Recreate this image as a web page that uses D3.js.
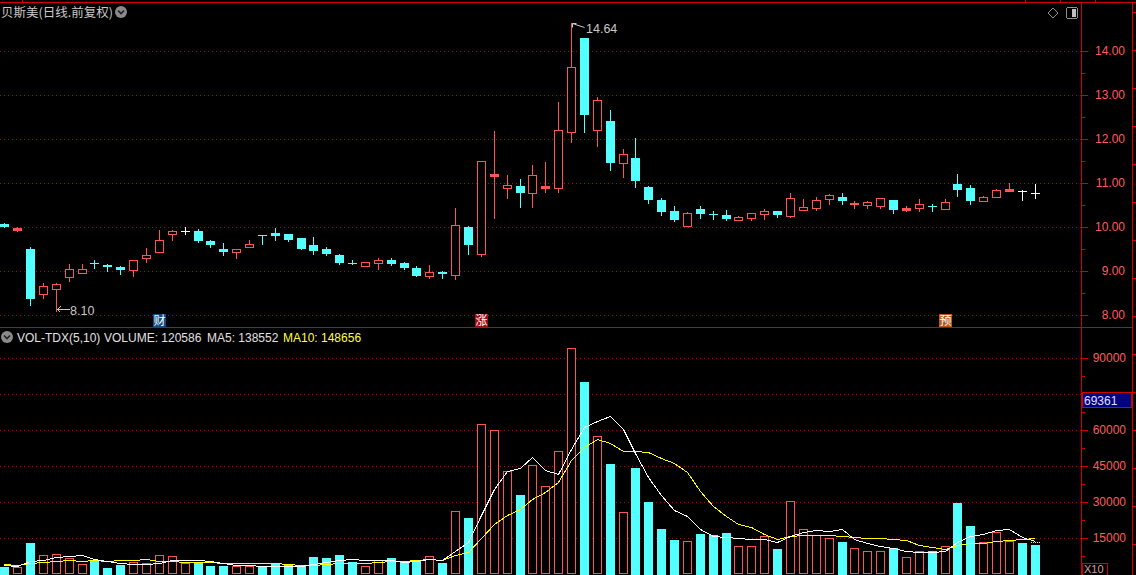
<!DOCTYPE html>
<html><head><meta charset="utf-8">
<script src="https://cdnjs.cloudflare.com/ajax/libs/d3/7.8.5/d3.min.js"></script>
<style>html,body{margin:0;padding:0;background:#000;overflow:hidden}svg{display:block}</style>
</head><body><svg id="c" width="1136" height="575"></svg>
<script>
// ---------- data ----------
const openP  = [10.06,9.94,9.50,8.48,8.60,8.86,8.96,9.18,9.14,9.08,9.03,9.30,9.44,9.85,9.91,9.91,9.68,9.50,9.43,9.54,
                9.82,9.86,9.84,9.75,9.59,9.50,9.36,9.19,9.12,9.19,9.25,9.18,9.07,8.89,8.98,8.92,10.00,9.39,11.17,10.88,
                10.93,10.77,10.88,10.88,12.15,14.30,12.20,12.41,11.45,11.57,10.91,10.61,10.36,10.03,10.41,10.29,10.27,10.15,10.21,10.30,
                10.36,10.26,10.39,10.44,10.64,10.68,10.52,10.51,10.48,10.61,10.39,10.44,10.47,10.42,10.98,10.89,10.60,10.69,10.82,10.81,10.77];
const highP  = [10.10,10.00,9.54,8.73,8.73,9.16,9.15,9.24,9.16,9.11,9.25,9.52,9.93,9.93,9.99,9.95,9.70,9.64,9.50,9.70,
                9.82,9.98,9.84,9.75,9.77,9.55,9.39,9.25,9.20,9.30,9.30,9.20,9.11,9.14,9.00,10.43,10.02,11.51,12.18,11.18,
                11.09,11.41,11.48,12.84,14.64,14.30,12.95,12.66,11.77,12.02,10.93,10.65,10.48,10.33,10.48,10.36,10.39,10.26,10.31,10.41,
                10.36,10.77,10.64,10.68,10.75,10.77,10.58,10.60,10.66,10.61,10.48,10.64,10.53,10.64,11.20,10.95,10.70,10.86,11.00,10.84,10.98];
const lowP   = [9.99,9.92,8.23,8.39,8.10,8.78,8.96,9.07,9.00,8.94,8.89,9.20,9.44,9.71,9.83,9.66,9.55,9.37,9.30,9.54,
                9.62,9.71,9.69,9.50,9.39,9.36,9.16,9.17,9.12,9.05,9.14,9.05,8.89,8.84,8.84,8.82,9.39,9.33,10.21,10.67,
                10.46,10.46,10.80,10.80,11.93,12.17,11.85,11.30,11.14,10.90,10.55,10.28,10.14,10.03,10.21,10.19,10.17,10.15,10.17,10.19,
                10.23,10.23,10.39,10.39,10.53,10.53,10.44,10.44,10.44,10.32,10.37,10.37,10.37,10.42,10.71,10.53,10.60,10.69,10.82,10.62,10.67];
const closeP = [9.99,9.98,8.36,8.66,8.70,9.04,9.04,9.16,9.10,9.03,9.25,9.36,9.70,9.91,9.91,9.69,9.58,9.44,9.50,9.61,
                9.81,9.80,9.71,9.50,9.45,9.39,9.18,9.17,9.20,9.25,9.16,9.07,8.89,8.98,8.94,10.05,9.60,11.51,11.20,10.95,
                10.78,11.18,10.93,12.20,13.63,12.55,12.88,11.46,11.67,11.05,10.62,10.34,10.17,10.31,10.30,10.28,10.19,10.22,10.31,10.36,
                10.28,10.65,10.45,10.61,10.72,10.58,10.54,10.56,10.66,10.39,10.43,10.52,10.46,10.57,10.84,10.60,10.68,10.84,10.86,10.81,10.77];
// volume in axis units (x10 shares)
const volume = [2900,2800,12900,7800,8200,6500,4000,5700,2500,3750,4850,4450,7800,7350,4450,4600,3300,3300,3300,3300,
                2900,4000,3600,3900,7100,6700,7900,5000,3300,5800,6700,5000,5800,7350,4600,26100,23300,62400,59900,42800,
                32900,45300,36500,51100,94000,80000,57400,45800,25700,44200,30000,18750,14200,13600,16700,16250,17100,11500,11500,15700,
                10400,30300,18600,16100,14900,13300,10700,9600,9600,10800,6950,9450,9450,11500,29600,20000,13200,17400,13750,12900,12058.6];
// sessions before the visible window (estimated from where the MA lines start)
const priorVolume = [4700,4600,4700,4700,2250,5500,2800,5100,2750];
const projectedVolume = 13200;
const priceTicks = [8,9,10,11,12,13,14];
const priceMinor = [8.5,9.5,10.5,11.5,12.5,13.5];
const volTicks = [15000,30000,45000,60000,75000,90000];
const volLabels = [15000,30000,45000,60000,90000];
const volMinor = [7500,22500,37500,52500,67500,82500];
const markers = [{i:12,t:"财",c:"#0f4a86"},{i:37,t:"涨",c:"#9a1010"},{i:73,t:"预",c:"#b8561c"}];
const title = "贝斯美(日线.前复权)";
const hiLabel = "14.64", loLabel = "8.10";
const headerMA5 = "MA5: 138552", headerMA10 = "MA10: 148656", cursorValue = "69361";

// ---------- drawing ----------
const RED = "#ff5454", CYAN = "#54ffff", AX = "#d00000", GRID = "#b00000", LBL = "#ff5c5c", TXT = "#c8c8c8";
const FONT = "Liberation Sans, Arial";
const svg = d3.select("#c").attr("shape-rendering","crispEdges");
svg.append("rect").attr("width",1136).attr("height",575).attr("fill","#000");

const n = closeP.length;
const x = d3.scaleBand().domain(d3.range(n)).range([-2.14, 1041.14]);
const cx = i => Math.round(x(i) + x.bandwidth()/2);
const yP = d3.scaleLinear().domain([8,15]).range([315,7]);
const yV = d3.scaleLinear().domain([0,90000]).range([574,358]);
const PX = 1081, PR = 1132.5;

// frame
svg.append("line").attr("x1",0).attr("x2",1136).attr("y1",2.5).attr("y2",2.5).attr("stroke",AX);
[22,1025,1060,1095].forEach(t=>svg.append("line").attr("x1",t+.5).attr("x2",t+.5).attr("y1",0).attr("y2",2).attr("stroke",AX));
svg.append("line").attr("x1",0).attr("x2",PR).attr("y1",327.5).attr("y2",327.5).attr("stroke",AX);
svg.append("line").attr("x1",PX+.5).attr("x2",PX+.5).attr("y1",2).attr("y2",575).attr("stroke",AX);
svg.append("line").attr("x1",PR).attr("x2",PR).attr("y1",2).attr("y2",575).attr("stroke",AX);
d3.range(12,575,38).forEach(t=>svg.append("line").attr("x1",PR).attr("x2",1136).attr("y1",t+.5).attr("y2",t+.5).attr("stroke",AX));

// grid
const grid = svg.append("g").attr("stroke",GRID).attr("stroke-dasharray","1,3");
priceTicks.forEach(t=>grid.append("line").attr("x1",0).attr("x2",PX).attr("y1",Math.round(yP(t))+.5).attr("y2",Math.round(yP(t))+.5));
volTicks.forEach(t=>grid.append("line").attr("x1",0).attr("x2",PX).attr("y1",Math.round(yV(t))+.5).attr("y2",Math.round(yV(t))+.5));

// price axis
const pAxis = d3.axisRight(yP).tickValues(priceTicks).tickSize(7).tickPadding(37).tickFormat(d3.format(".2f"));
const pg = svg.append("g").attr("transform",`translate(${PX},0)`).call(pAxis);
pg.select(".domain").remove();
pg.selectAll(".tick line").attr("stroke",AX);
pg.selectAll("text").attr("fill",LBL).attr("text-anchor","end").attr("font-family",FONT).attr("font-size",12);
priceMinor.forEach(t=>svg.append("line").attr("x1",PX).attr("x2",PX+4).attr("y1",Math.round(yP(t))+.5).attr("y2",Math.round(yP(t))+.5).attr("stroke",AX));

// volume axis
const vAxis = d3.axisRight(yV).tickValues(volLabels).tickSize(7).tickPadding(38).tickFormat(d3.format("d"));
const vg = svg.append("g").attr("transform",`translate(${PX},0)`).call(vAxis);
vg.select(".domain").remove();
vg.selectAll(".tick line").attr("stroke",AX);
vg.selectAll("text").attr("fill",LBL).attr("text-anchor","end").attr("font-family",FONT).attr("font-size",12);
volMinor.concat([75000]).forEach(t=>svg.append("line").attr("x1",PX).attr("x2",PX+4).attr("y1",Math.round(yV(t))+.5).attr("y2",Math.round(yV(t))+.5).attr("stroke",AX));

// candles
const cg = svg.append("g");
for(let i=0;i<n;i++){
  const o=openP[i], c=closeP[i], X=cx(i);
  const col = c>o?RED:(c<o?CYAN:"#ffffff");
  cg.append("line").attr("x1",X+.5).attr("x2",X+.5).attr("y1",Math.round(yP(highP[i]))).attr("y2",Math.round(yP(lowP[i]))+1).attr("stroke",col);
  const yt = Math.round(yP(Math.max(o,c))), yb = Math.round(yP(Math.min(o,c)));
  if(c>o){
    if(yb-yt<=2) cg.append("rect").attr("x",X-4).attr("width",9).attr("y",yt).attr("height",Math.max(1,yb-yt+1)).attr("fill",RED);
    else cg.append("rect").attr("x",X-3.5).attr("width",8).attr("y",yt+.5).attr("height",yb-yt).attr("fill","#000").attr("stroke",RED);
  } else if(c<o){
    cg.append("rect").attr("x",X-4).attr("width",9).attr("y",yt).attr("height",Math.max(1,yb-yt)).attr("fill",CYAN);
  } else {
    cg.append("rect").attr("x",X-4).attr("width",9).attr("y",yt).attr("height",1).attr("fill","#ffffff");
  }
}

// hi / lo annotations
const hiI = highP.indexOf(d3.max(highP)), loI = lowP.indexOf(d3.min(lowP));
const ann = svg.append("g").attr("fill",TXT).attr("font-family",FONT).attr("font-size",12.5);
{
  const X=cx(hiI)+1, Y=Math.round(yP(highP[hiI]));
  svg.append("path").attr("d",`M${X+.5},${Y+.5}L${X+12.5},${Y+4.5}M${X+.5},${Y+.5}L${X+4.5},${Y+.5}M${X+.5},${Y+.5}L${X+.5},${Y+4.5}`).attr("stroke",TXT).attr("fill","none").attr("shape-rendering","auto");
  ann.append("text").attr("x",X+14).attr("y",Y+10).text(hiLabel);
}
{
  const X=cx(loI)+1, Y=Math.round(yP(lowP[loI]))-2;
  svg.append("path").attr("d",`M${X+.5},${Y+.5}L${X+12.5},${Y+.5}M${X+.5},${Y+.5}L${X+3.5},${Y-2.5}M${X+.5},${Y+.5}L${X+3.5},${Y+3.5}`).attr("stroke",TXT).attr("fill","none");
  ann.append("text").attr("x",X+13).attr("y",Y+6).text(loLabel);
}

// markers
markers.forEach(m=>{
  const X=cx(m.i);
  svg.append("rect").attr("x",X-6).attr("y",314).attr("width",13).attr("height",13).attr("fill",m.c);
  svg.append("text").attr("x",X+.5).attr("y",325).attr("text-anchor","middle").attr("fill","#ffffff")
    .attr("font-family","Noto Sans CJK SC").attr("font-size",12).text(m.t);
});

// title
svg.append("text").attr("x",1).attr("y",17).attr("fill",TXT).attr("font-family","Noto Sans CJK SC").attr("font-size",12.5).text(title);
const icon=(X,Y)=>{svg.append("circle").attr("cx",X).attr("cy",Y).attr("r",6).attr("fill","#8a8a8a").attr("shape-rendering","auto");
  svg.append("path").attr("d",`M${X-3},${Y-1.5}L${X},${Y+1.5}L${X+3},${Y-1.5}`).attr("stroke","#202020").attr("stroke-width",1.6).attr("fill","none").attr("shape-rendering","auto");};
icon(121,12);
// top right icons
svg.append("path").attr("d","M1053,8L1058,13L1053,18L1048,13Z").attr("fill","none").attr("stroke","#909090").attr("shape-rendering","auto");
svg.append("rect").attr("x",1066.5).attr("y",7.5).attr("width",11).attr("height",11).attr("rx",2).attr("fill","none").attr("stroke","#909090");
svg.append("rect").attr("x",1072).attr("y",9).attr("width",4).attr("height",8).attr("fill","#c0c0c0");

// volume bars
const vgp = svg.append("g");
for(let i=0;i<n;i++){
  const o=openP[i], c=closeP[i], X=cx(i);
  const up = c>o || (c===o && (i===0 || c>=closeP[i-1]));
  const yt = Math.round(yV(volume[i]));
  if(up) vgp.append("rect").attr("x",X-3.5).attr("width",8).attr("y",yt+.5).attr("height",573-yt).attr("fill","#000").attr("stroke",RED);
  else vgp.append("rect").attr("x",X-4).attr("width",9).attr("y",yt).attr("height",575-yt).attr("fill",CYAN);
}
// projected volume marker on last bar
svg.append("line").attr("x1",cx(n-1)-4).attr("x2",cx(n-1)+5).attr("y1",Math.round(yV(projectedVolume))+.5).attr("y2",Math.round(yV(projectedVolume))+.5)
  .attr("stroke","#ffff00").attr("stroke-dasharray","1,1");

// moving averages
const full = priorVolume.concat(volume), off = priorVolume.length;
const ma = k => d3.range(n).map(i=>d3.mean(full.slice(i+off-k+1, i+off+1)));
const ma5 = ma(5), ma10 = ma(10);
const line = d3.line().x((d,i)=>cx(i)+.5).y(d=>Math.round(yV(d))+.5);
svg.append("path").datum(ma10).attr("d",line).attr("fill","none").attr("stroke","#ffff00");
svg.append("path").datum(ma5).attr("d",line).attr("fill","none").attr("stroke","#ffffff");

// volume header
icon(7,337);
const hdr = svg.append("g").attr("font-family",FONT).attr("font-size",12);
hdr.append("text").attr("x",17).attr("y",341.5).attr("fill","#e0e0e0").text("VOL-TDX(5,10)");
hdr.append("text").attr("x",104).attr("y",341.5).attr("fill","#e0e0e0").text("VOLUME: "+Math.round(volume[n-1]*10));
hdr.append("text").attr("x",207).attr("y",341.5).attr("fill","#e0e0e0").text(headerMA5);
hdr.append("text").attr("x",283).attr("y",341.5).attr("fill","#ffff40").text(headerMA10);

// value box and unit box
svg.append("rect").attr("x",1082.5).attr("y",392.5).attr("width",49).attr("height",15).attr("fill","#000080").attr("stroke",AX);
svg.append("text").attr("x",1084).attr("y",404.5).attr("fill","#e0e0ff").attr("font-family",FONT).attr("font-size",12).text(cursorValue);
svg.append("rect").attr("x",1082.5).attr("y",563.5).attr("width",25).attr("height",13).attr("fill","#000").attr("stroke",AX);
svg.append("text").attr("x",1084).attr("y",573).attr("fill","#d0a0a0").attr("font-family",FONT).attr("font-size",11).text("X10");
</script></body></html>
